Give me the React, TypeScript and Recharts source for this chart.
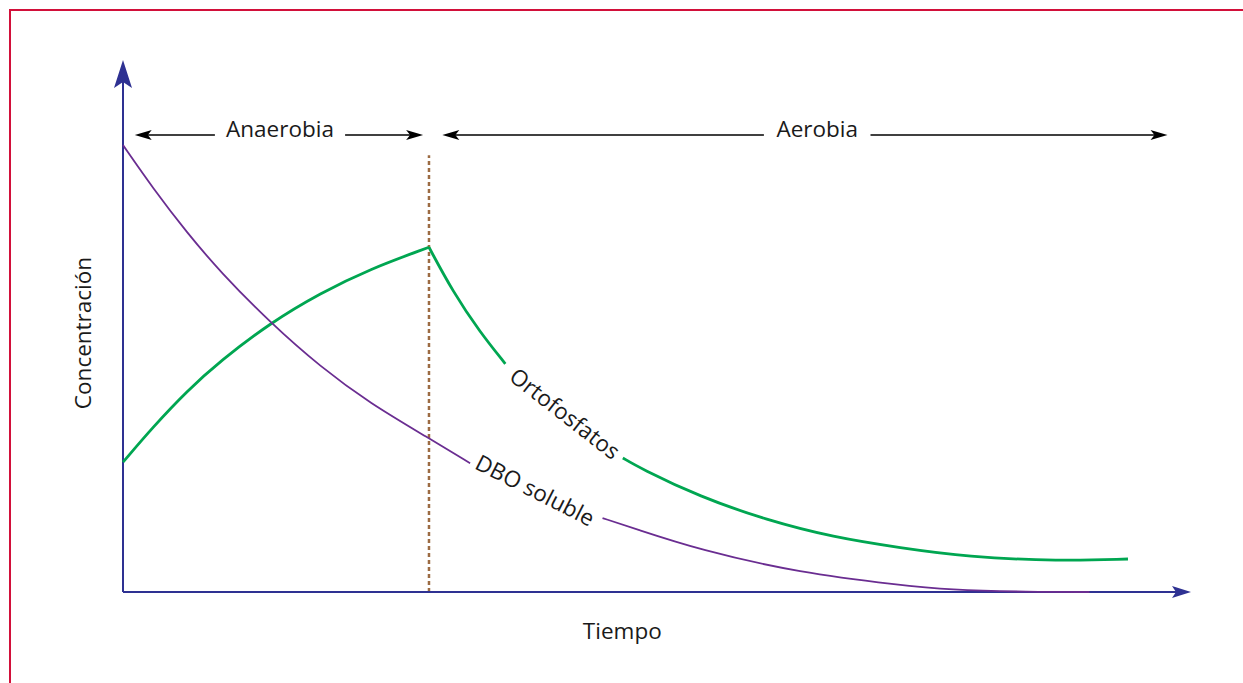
import { LineChart, Line, XAxis, YAxis, ReferenceLine, ReferenceDot } from 'recharts'

// tiempo (0-100) vs concentración (0-100)
const dboSoluble = [
  { t: 0, v: 84.0 }, { t: 2.8, v: 75.9 }, { t: 6.0, v: 67.5 }, { t: 9.1, v: 60.2 },
  { t: 13.8, v: 50.6 }, { t: 18.5, v: 42.3 }, { t: 23.1, v: 35.5 }, { t: 28.65, v: 28.9 },
  { t: 32.5, v: 24.2 }, { t: 38.6, v: null }, { t: 44.9, v: 13.9 }, { t: 47.8, v: 12.0 },
  { t: 54.0, v: 7.9 }, { t: 63.4, v: 3.6 }, { t: 72.8, v: 1.3 }, { t: 77.2, v: 0.4 },
  { t: 84.9, v: 0 }, { t: 90.5, v: 0 },
]

const ortoAnaerobia = [
  { t: 0, v: 24.4 }, { t: 2.8, v: 31.0 }, { t: 6.0, v: 37.8 }, { t: 9.1, v: 43.4 },
  { t: 13.8, v: 50.6 }, { t: 18.5, v: 56.2 }, { t: 23.1, v: 60.7 }, { t: 28.65, v: 64.8 },
]

const ortoAerobia = [
  { t: 28.65, v: 64.8 }, { t: 30.9, v: 56.4 }, { t: 33.4, v: 48.9 }, { t: 35.8, v: 42.9 },
  { t: 41.4, v: null }, { t: 46.8, v: 25.2 }, { t: 48.4, v: 23.3 }, { t: 54.0, v: 17.9 },
  { t: 60.3, v: 13.5 }, { t: 66.5, v: 10.3 }, { t: 72.8, v: 8.3 }, { t: 79.0, v: 6.6 },
  { t: 87.7, v: 5.8 }, { t: 94.1, v: 6.2 },
]

const fases = [
  { nombre: 'Anaerobia', desde: 1.1, hasta: 28.1, centro: 14.7, altura: 85.9 },
  { nombre: 'Aerobia', desde: 29.9, hasta: 97.8, centro: 65.0, altura: 85.9 },
]

const cambioFase = { t: 28.65, desde: 0, hasta: 82.1 }

const etiquetasCurvas = [
  { texto: 'Ortofosfatos', t: 41.4, v: 33.6, angulo: 38 },
  { texto: 'DBO soluble', t: 38.6, v: 19.2, angulo: 27 },
]

const FONT = '"Open Sans", "Noto Sans", sans-serif'
const FS = 22.5
const AZUL = '#2e3192'
const VERDE = '#00a651'
const MORADO = '#6a2d91'

function EjeConFlecha(props: any) {
  const { x1, y1, x2, y2, largo, ancho, muesca } = props
  const ang = Math.atan2(y2 - y1, x2 - x1)
  const ux = Math.cos(ang), uy = Math.sin(ang)
  const px = -uy, py = ux
  const bx = x2 - ux * largo, by = y2 - uy * largo
  const nx = x2 - ux * (largo - muesca), ny = y2 - uy * (largo - muesca)
  return (
    <g>
      <line x1={x1} y1={y1} x2={nx} y2={ny} stroke={AZUL} strokeWidth={2} />
      <path
        d={`M${x2},${y2} L${bx + px * ancho},${by + py * ancho} L${nx},${ny} L${bx - px * ancho},${by - py * ancho} Z`}
        fill={AZUL}
      />
    </g>
  )
}

function punta(x: number, y: number, dir: number) {
  // dir = -1 points left, 1 points right
  const b = x - dir * 17, n = x - dir * 13
  return `M${x},${y} L${b},${y - 5} L${n},${y} L${b},${y + 5} Z`
}

function FlechaFase(props: any) {
  const { x1, y1, x2, fase } = props
  const cx = x1 + ((fase.centro - fase.desde) / (fase.hasta - fase.desde)) * (x2 - x1)
  const hueco = fase.nombre.length * 5.9 + 12
  return (
    <g>
      <line x1={x1 + 12} y1={y1} x2={cx - hueco} y2={y1} stroke="#000" strokeWidth={1.5} />
      <line x1={cx + hueco} y1={y1} x2={x2 - 12} y2={y1} stroke="#000" strokeWidth={1.5} />
      <path d={punta(x1, y1, -1)} fill="#000" />
      <path d={punta(x2, y1, 1)} fill="#000" />
      <text x={cx} y={y1 + 2} textAnchor="middle" fontFamily={FONT} fontSize={FS} fill="#1a1a1a">
        {fase.nombre}
      </text>
    </g>
  )
}

function EtiquetaCurva(props: any) {
  const { cx, cy, et } = props
  return (
    <text
      x={cx}
      y={cy}
      transform={`rotate(${et.angulo} ${cx} ${cy})`}
      textAnchor="middle"
      dominantBaseline="central"
      fontFamily={FONT}
      fontSize={FS}
      fill="#1a1a1a"
    >
      {et.texto}
    </text>
  )
}

function TituloX(props: any) {
  const { viewBox } = props
  const x = viewBox.x + viewBox.width * 0.4675
  return (
    <text x={x} y={viewBox.y + 38} textAnchor="middle" dominantBaseline="central" fontFamily={FONT} fontSize={FS} fill="#1a1a1a">
      Tiempo
    </text>
  )
}

function TituloY(props: any) {
  const { viewBox } = props
  const x = viewBox.x + 19
  const y = viewBox.y + viewBox.height / 2 + 7
  return (
    <text x={x} y={y} transform={`rotate(-90 ${x} ${y})`} textAnchor="middle" dominantBaseline="central" fontFamily={FONT} fontSize={FS} fill="#1a1a1a">
      Concentración
    </text>
  )
}

export default function App() {
  return (
    <div style={{ position: 'absolute', left: 0, top: 0, width: 1243, height: 683, overflow: 'hidden', background: '#fff' }}>
      <div style={{ position: 'absolute', left: 9, top: 9, width: 1400, height: 900, border: '2px solid #d2103a' }} />
      <div style={{ position: 'absolute', left: 0, top: 0 }}>
        <LineChart width={1243} height={683} margin={{ top: 60, right: 52, bottom: 51, left: 63 }}>
          <XAxis
            type="number"
            dataKey="t"
            domain={[0, 100]}
            height={40}
            axisLine={false}
            tickLine={false}
            tick={false}
            label={<TituloX />}
          />
          <YAxis
            type="number"
            domain={[0, 100]}
            width={60}
            axisLine={false}
            tickLine={false}
            tick={false}
            label={<TituloY />}
          />
          <ReferenceLine
            segment={[{ x: cambioFase.t, y: cambioFase.desde }, { x: cambioFase.t, y: cambioFase.hasta }]}
            stroke="#9c6b43"
            strokeWidth={2.5}
            strokeDasharray="4 3"
          />
          <ReferenceLine
            segment={[{ x: 0, y: 0 }, { x: 0, y: 100 }]}
            shape={(p: any) => <EjeConFlecha {...p} largo={28} ancho={9} muesca={6} />}
          />
          <ReferenceLine
            segment={[{ x: 0, y: 0 }, { x: 100, y: 0 }]}
            shape={(p: any) => <EjeConFlecha {...p} largo={19} ancho={6} muesca={4} />}
          />
          {fases.map((f) => (
            <ReferenceLine
              key={f.nombre}
              segment={[{ x: f.desde, y: f.altura }, { x: f.hasta, y: f.altura }]}
              shape={(p: any) => <FlechaFase {...p} fase={f} />}
            />
          ))}
          <Line data={ortoAnaerobia} dataKey="v" type="basis" stroke={VERDE} strokeWidth={2.8} dot={false} isAnimationActive={false} />
          <Line data={ortoAerobia} dataKey="v" type="basis" stroke={VERDE} strokeWidth={2.8} dot={false} isAnimationActive={false} />
          <Line data={dboSoluble} dataKey="v" type="basis" stroke={MORADO} strokeWidth={1.8} dot={false} isAnimationActive={false} />
          {etiquetasCurvas.map((e) => (
            <ReferenceDot key={e.texto} x={e.t} y={e.v} r={0} shape={(p: any) => <EtiquetaCurva {...p} et={e} />} />
          ))}
        </LineChart>
      </div>
    </div>
  )
}
